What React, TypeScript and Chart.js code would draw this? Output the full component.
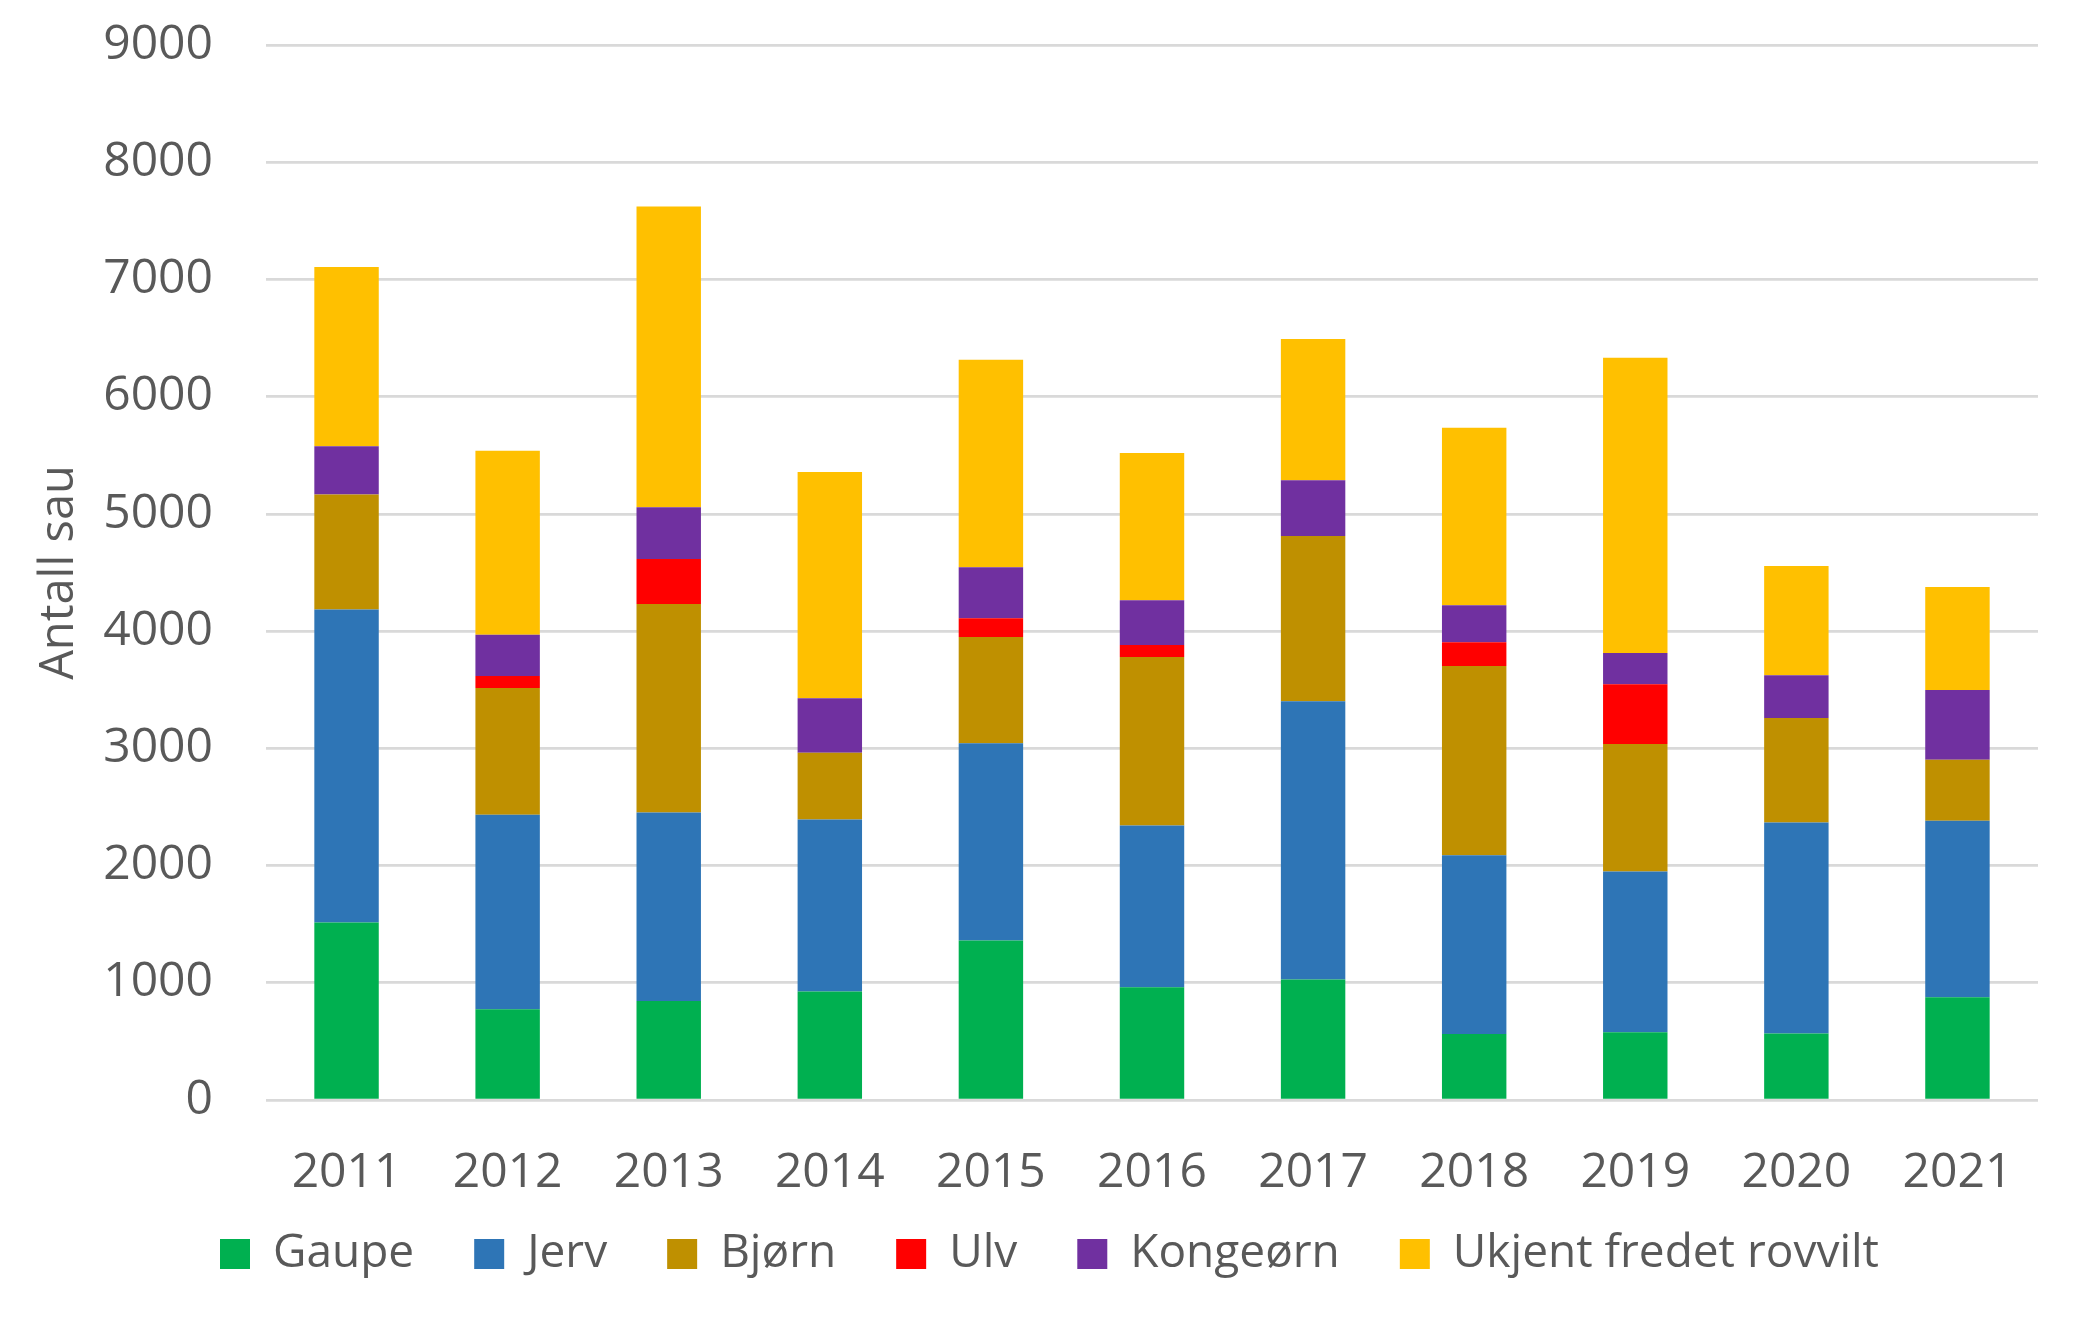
import { useEffect, useRef } from 'react';
import { Chart, registerables } from 'chart.js';

Chart.register(...registerables);

const years = ['2011', '2012', '2013', '2014', '2015', '2016', '2017', '2018', '2019', '2020', '2021'];

const gaupe = [1515, 774, 845, 926, 1361, 962, 1029, 563, 578, 567, 877];
const jerv = [2669, 1660, 1607, 1467, 1682, 1380, 2372, 1524, 1372, 1801, 1505];
const bjorn = [981, 1081, 1780, 569, 907, 1438, 1411, 1616, 1088, 891, 520];
const ulv = [0, 103, 384, 0, 160, 102, 0, 202, 509, 0, 0];
const kongeorn = [413, 350, 441, 465, 435, 381, 475, 315, 267, 364, 596];
const ukjent = [1529, 1570, 2565, 1931, 1769, 1257, 1206, 1514, 2517, 933, 879];

const textColor = '#595959';
const fontFamily = '"Open Sans", "DejaVu Sans", sans-serif';

const RovviltChart = () => {
    const chartRef = useRef<HTMLCanvasElement>(null);

    useEffect(() => {
        if (!chartRef.current) return;
        const ctx = chartRef.current.getContext('2d');
        if (!ctx) return;

        const bar = (label: string, data: number[], color: string) => ({
            label,
            data,
            backgroundColor: color,
            borderWidth: 0,
            barPercentage: 0.4,
            categoryPercentage: 1,
        });

        const chart = new Chart(ctx, {
            type: 'bar',
            data: {
                labels: years,
                datasets: [
                    bar('Gaupe', gaupe, '#00B050'),
                    bar('Jerv', jerv, '#2E75B6'),
                    bar('Bjørn', bjorn, '#BF9000'),
                    bar('Ulv', ulv, '#FF0000'),
                    bar('Kongeørn', kongeorn, '#7030A0'),
                    bar('Ukjent fredet rovvilt', ukjent, '#FFC000'),
                ],
            },
            options: {
                animation: false,
                responsive: true,
                maintainAspectRatio: false,
                layout: {
                    padding: { left: 61, right: 41, top: 45, bottom: 41 },
                },
                plugins: {
                    tooltip: { enabled: false },
                    legend: {
                        display: true,
                        position: 'bottom',
                        labels: {
                            boxWidth: 30,
                            boxHeight: 30,
                            padding: 60,
                            color: textColor,
                            font: { family: fontFamily, size: 46 },
                        },
                    },
                },
                scales: {
                    x: {
                        stacked: true,
                        grid: { display: false },
                        border: { display: false },
                        ticks: {
                            color: textColor,
                            font: { family: fontFamily, size: 48 },
                            // mirror keeps the labels from being clipped to the (fixed) axis box
                            mirror: true,
                            padding: -102,
                            maxRotation: 0,
                            autoSkip: false,
                        },
                        afterFit: (scale: any) => {
                            scale.height = 71;
                        },
                    },
                    y: {
                        stacked: true,
                        min: 0,
                        max: 9000,
                        grid: {
                            color: '#D9D9D9',
                            lineWidth: 2.7,
                            drawTicks: true,
                            tickLength: 50,
                            tickColor: 'rgba(0,0,0,0)',
                        },
                        border: { display: false },
                        ticks: {
                            stepSize: 1000,
                            color: textColor,
                            font: { family: fontFamily, size: 48 },
                            padding: 3,
                            callback: (value: any) => String(value),
                        },
                        title: {
                            display: true,
                            text: 'Antall sau',
                            color: textColor,
                            font: { family: fontFamily, size: 47 },
                            padding: { top: -30, bottom: 0 },
                        },
                        afterFit: (scale: any) => {
                            scale.width = 205;
                        },
                    },
                },
            },
        });

        return () => {
            chart.destroy();
        };
    }, []);

    return (
        <div style={{ position: 'absolute', left: 0, top: 0, width: 2079, height: 1328, background: '#fff' }}>
            <canvas ref={chartRef}></canvas>
        </div>
    );
};

export default function App() {
    return <RovviltChart />;
}
